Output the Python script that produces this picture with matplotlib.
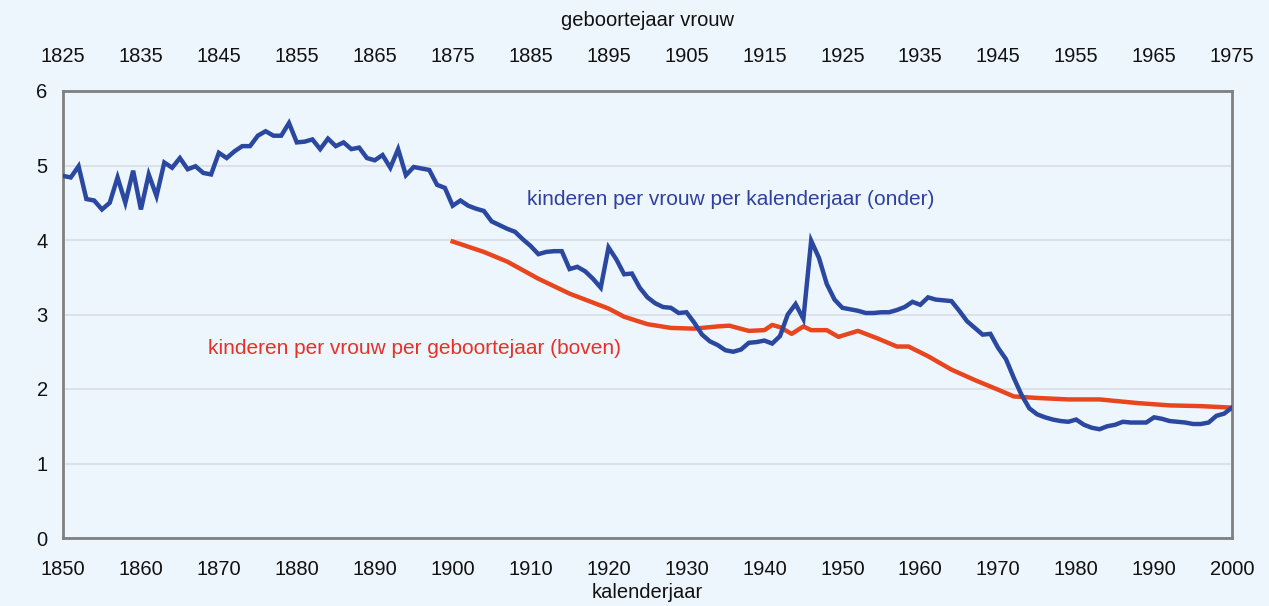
import numpy as np
import matplotlib
matplotlib.use('Agg')
from matplotlib import pyplot as plt

# kinderen per vrouw per kalenderjaar (annual TFR), 1850-2000
years_cal = list(range(1850, 2001))
tfr_cal = [
   4.86, 4.84, 4.99, 4.55, 4.53, 4.41, 4.50, 4.84, 4.50, 4.93,   # 1850-1859
   4.41, 4.88, 4.59, 5.04, 4.97, 5.10, 4.95, 4.99, 4.90, 4.88,   # 1860-1869
   5.17, 5.10, 5.19, 5.26, 5.26, 5.40, 5.46, 5.40, 5.40, 5.57,   # 1870-1879
   5.31, 5.32, 5.35, 5.22, 5.36, 5.26, 5.31, 5.22, 5.24, 5.10,   # 1880-1889
   5.07, 5.14, 4.97, 5.22, 4.87, 4.98, 4.96, 4.94, 4.74, 4.70,   # 1890-1899
   4.46, 4.53, 4.46, 4.42, 4.39, 4.25, 4.20, 4.15, 4.11, 4.01,   # 1900-1909
   3.92, 3.81, 3.84, 3.85, 3.85, 3.61, 3.64, 3.58, 3.48, 3.36,   # 1910-1919
   3.90, 3.74, 3.54, 3.55, 3.36, 3.23, 3.15, 3.10, 3.09, 3.02,   # 1920-1929
   3.03, 2.89, 2.73, 2.64, 2.59, 2.52, 2.50, 2.53, 2.62, 2.63,   # 1930-1939
   2.65, 2.61, 2.71, 3.00, 3.14, 2.94, 3.99, 3.76, 3.41, 3.20,   # 1940-1949
   3.09, 3.07, 3.05, 3.02, 3.02, 3.03, 3.03, 3.06, 3.10, 3.17,   # 1950-1959
   3.13, 3.23, 3.20, 3.19, 3.18, 3.05, 2.91, 2.82, 2.73, 2.74,   # 1960-1969
   2.55, 2.40, 2.15, 1.92, 1.74, 1.66, 1.62, 1.59, 1.57, 1.56,   # 1970-1979
   1.59, 1.52, 1.48, 1.46, 1.50, 1.52, 1.56, 1.55, 1.55, 1.55,   # 1980-1989
   1.62, 1.60, 1.57, 1.56, 1.55, 1.53, 1.53, 1.55, 1.64, 1.67,   # 1990-1999
   1.75,                                                         # 2000
]

# kinderen per vrouw per geboortejaar (cohort), plotted at calendar year = cohort + 25
years_coh = [1900, 1904, 1907, 1911, 1915, 1920, 1922, 1925, 1928, 1931, 1934, 1935.5,
             1938, 1940, 1941, 1942, 1943.5, 1945, 1946, 1948, 1949.5, 1952, 1954.5,
             1957, 1958.5, 1961, 1964, 1967, 1970, 1972, 1975, 1979, 1983, 1988, 1992,
             1996, 2000]
tfr_coh = [3.98, 3.84, 3.71, 3.48, 3.28, 3.08, 2.97, 2.87, 2.82, 2.81, 2.84, 2.85,
           2.78, 2.79, 2.86, 2.83, 2.74, 2.84, 2.79, 2.79, 2.70, 2.78, 2.68,
           2.57, 2.57, 2.44, 2.26, 2.12, 1.99, 1.90, 1.88, 1.86, 1.86, 1.81, 1.78,
           1.77, 1.75]

bottom_ticks = list(range(1850, 2001, 10))
top_labels = [str(y - 25) for y in bottom_ticks]
y_ticks = [0, 1, 2, 3, 4, 5, 6]

bg = '#eef6fd'
blue = '#2b48a0'
red = '#e8461e'

plt.rcParams['font.family'] = ['Liberation Sans', 'DejaVu Sans']

fig = plt.figure(figsize=(12.69, 6.06), dpi=100, facecolor=bg)
ax = fig.add_axes([63/1269, 1-538/606, (1232-63)/1269, (538-91)/606])
ax.set_facecolor(bg)

ax.plot(years_cal, tfr_cal, color=blue, lw=3.2, solid_joinstyle='miter', zorder=3)
ax.plot(years_coh, tfr_coh, color=red, lw=3.2, zorder=2)

ax.set_xlim(1850, 2000)
ax.set_ylim(0, 6)
ax.set_yticks(y_ticks)
ax.set_xticks(bottom_ticks)
ax.grid(axis='y', color='#d8dde3', lw=1.2)
ax.set_axisbelow(True)
for s in ax.spines.values():
   s.set_color('#808080')
   s.set_linewidth(2)
ax.tick_params(axis='both', length=0, labelsize=14.5, colors='#111111')
ax.tick_params(axis='x', pad=16)
ax.tick_params(axis='y', pad=11)
# x label placed by hand so it stays inside the picture
fig.text(647/1269, 1-592/606, 'kalenderjaar', fontsize=14.5, ha='center', va='center',
         color='#111111')

top = ax.twiny()
top.set_xlim(ax.get_xlim())
top.set_xticks(bottom_ticks)
top.set_xticklabels(top_labels)
top.tick_params(axis='x', length=0, labelsize=14.5, pad=18, colors='#111111')
top.set_xlabel('geboortejaar vrouw', fontsize=14.5, labelpad=15, color='#111111')
for s in top.spines.values():
   s.set_visible(False)

ax.text(1909.6, 4.54, 'kinderen per vrouw per kalenderjaar (onder)', color='#2e40a0',
        fontsize=15, va='center', ha='left')
ax.text(1868.6, 2.55, 'kinderen per vrouw per geboortejaar (boven)', color='#e8302a',
        fontsize=15, va='center', ha='left')

plt.savefig('out.png', dpi=100, facecolor=bg)
